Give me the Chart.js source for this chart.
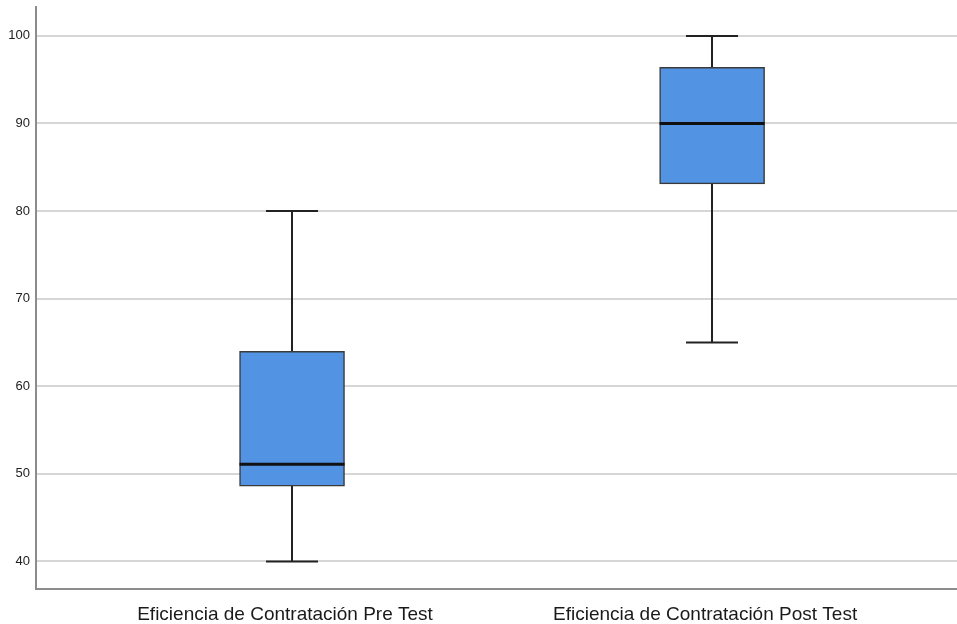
<!DOCTYPE html>
<html>
<head>
<meta charset="utf-8">
<script src="https://cdn.jsdelivr.net/npm/chart.js@4.4.0/dist/chart.umd.min.js"></script>
<style>
  html, body { margin: 0; padding: 0; background: #ffffff; }
  #wrap { width: 957px; height: 624px; }
</style>
</head>
<body>
<div id="wrap"><canvas id="c" width="957" height="624"></canvas></div>
<script>
// Data
const categories = ["Eficiencia de Contratación Pre Test", "Eficiencia de Contratación Post Test"];
const whiskerMin = [40, 65];
const q1Values   = [48.6, 83.1];
const medians    = [51.1, 90];
const q3Values   = [64, 96.4];
const whiskerMax = [80, 100];
const yTicks     = [40, 50, 60, 70, 80, 90, 100];

const boxData = categories.map((c, i) => ({ x: i + 1, y: [q1Values[i], q3Values[i]] }));

const boxPlugin = {
  id: 'boxExtras',
  beforeDatasetsDraw(chart) {
    const ctx = chart.ctx, xs = chart.scales.x, ys = chart.scales.y;
    ctx.save();
    ctx.strokeStyle = '#222222';
    ctx.lineWidth = 2;
    categories.forEach((c, i) => {
      const cx = Math.round(xs.getPixelForValue(i + 1));
      const capHalf = 26;
      const yMin = ys.getPixelForValue(whiskerMin[i]);
      const yMax = ys.getPixelForValue(whiskerMax[i]);
      const yQ1 = ys.getPixelForValue(q1Values[i]);
      const yQ3 = ys.getPixelForValue(q3Values[i]);
      ctx.beginPath();
      ctx.moveTo(cx, yQ1); ctx.lineTo(cx, yMin);
      ctx.moveTo(cx, yQ3); ctx.lineTo(cx, yMax);
      ctx.moveTo(cx - capHalf, yMin); ctx.lineTo(cx + capHalf, yMin);
      ctx.moveTo(cx - capHalf, yMax); ctx.lineTo(cx + capHalf, yMax);
      ctx.stroke();
    });
    ctx.restore();
  },
  afterDatasetsDraw(chart) {
    const ctx = chart.ctx, ys = chart.scales.y;
    const meta = chart.getDatasetMeta(0);
    ctx.save();
    ctx.strokeStyle = '#111111';
    ctx.lineWidth = 3;
    categories.forEach((c, i) => {
      const el = meta.data[i];
      const half = el.width / 2;
      const cx = el.x;
      const ym = ys.getPixelForValue(medians[i]);
      ctx.beginPath();
      ctx.moveTo(cx - half, ym); ctx.lineTo(cx + half, ym);
      ctx.stroke();
    });
    ctx.restore();
  }
};

new Chart(document.getElementById('c'), {
  type: 'bar',
  data: {
    datasets: [{
      data: boxData,
      backgroundColor: '#5293e3',
      borderColor: '#3a3a3a',
      borderWidth: 1.5,
      borderSkipped: false,
      barThickness: 105
    }]
  },
  plugins: [boxPlugin],
  options: {
    responsive: false,
    animation: false,
    layout: { padding: { top: 7, right: 0, left: 0, bottom: 0 } },
    plugins: { legend: { display: false }, tooltip: { enabled: false } },
    scales: {
      x: {
        type: 'linear',
        offset: false,
        min: 0.3905,
        max: 2.583,
        grid: { display: false, drawTicks: false, offset: false },
        border: { display: true, color: '#8c8c8c', width: 2 },
        afterBuildTicks(scale) { scale.ticks = categories.map((c, i) => ({ value: i + 1 })); },
        afterFit(scale) { scale.height = 35; scale.paddingLeft = 0; scale.paddingRight = 0; },
        ticks: {
          autoSkip: false,
          maxRotation: 0,
          padding: 14,
          labelOffset: -7,
          color: '#1a1a1a',
          font: { family: 'Liberation Sans', size: 19 },
          callback: (v) => categories[Math.round(v) - 1] || ''
        }
      },
      y: {
        min: 36.85,
        max: 103.3,
        grid: { color: '#d6d6d6', lineWidth: 2, drawTicks: false },
        border: { display: true, color: '#8c8c8c', width: 2 },
        afterBuildTicks(scale) { scale.ticks = yTicks.map(v => ({ value: v })); },
        afterFit(scale) { scale.width = 36; scale.paddingTop = 0; scale.paddingBottom = 0; },
        ticks: {
          padding: 6,
          color: '#222222',
          font: { family: 'Liberation Sans', size: 13 }
        }
      }
    }
  }
});
</script>
</body>
</html>
